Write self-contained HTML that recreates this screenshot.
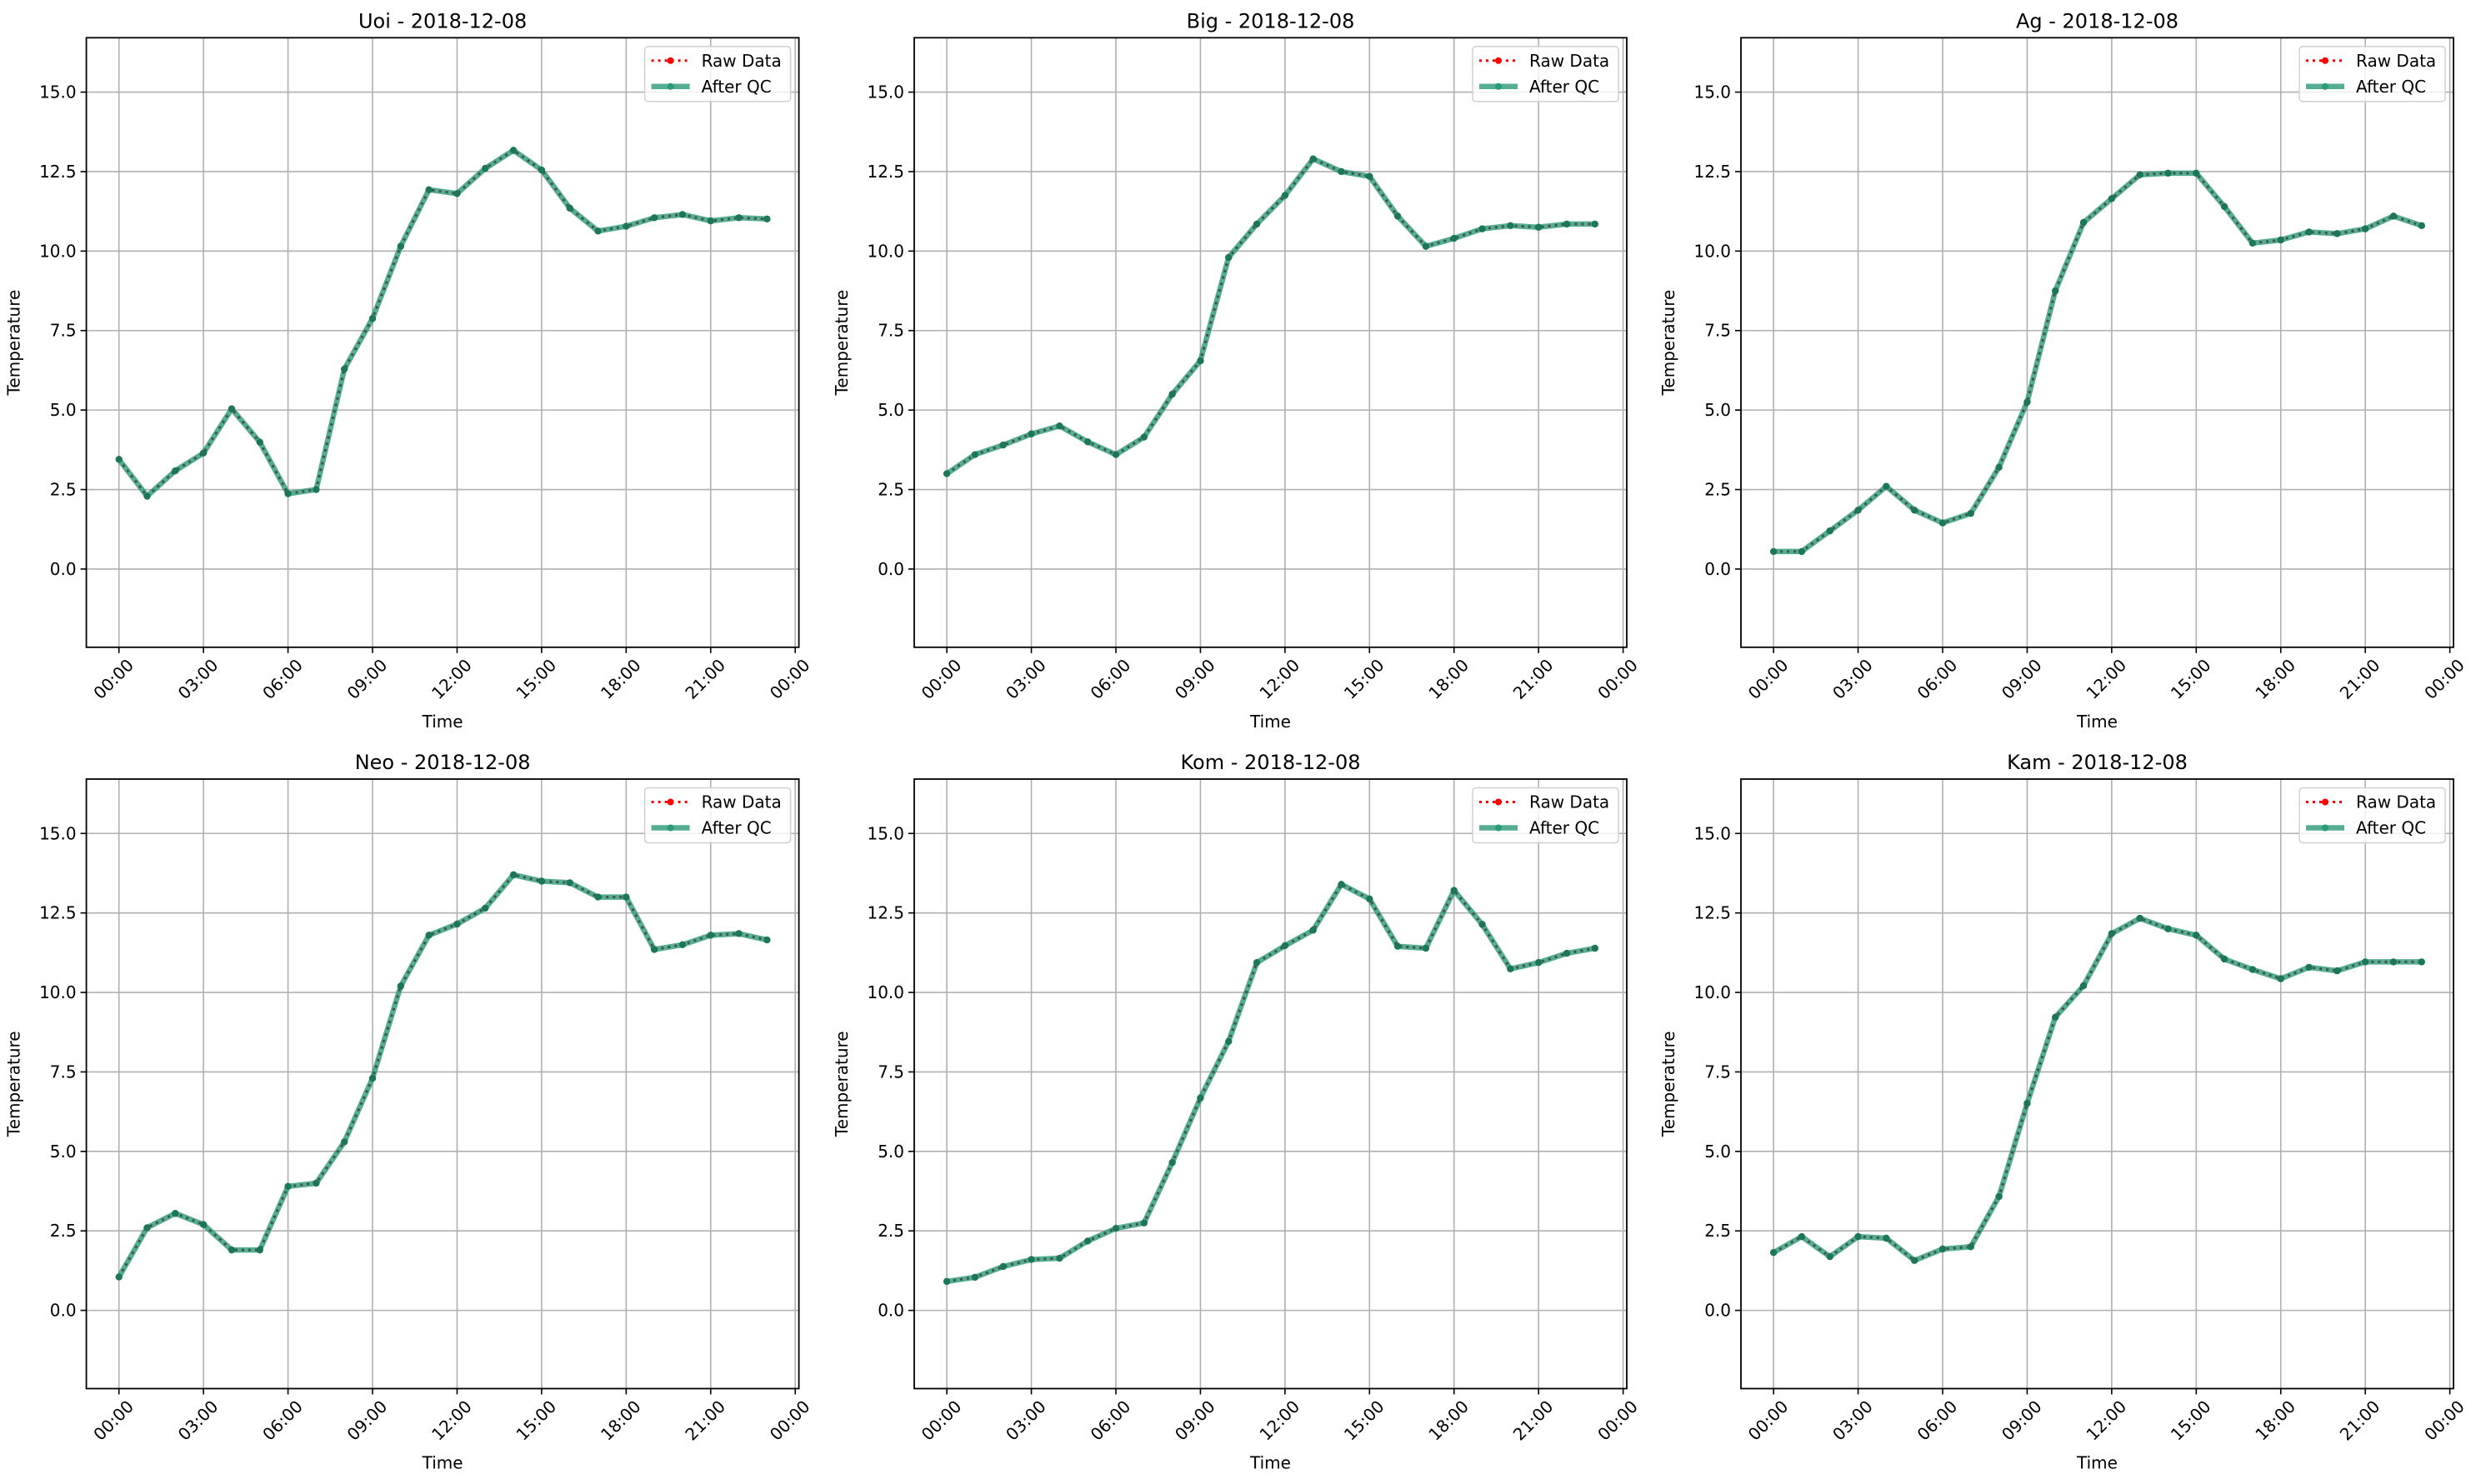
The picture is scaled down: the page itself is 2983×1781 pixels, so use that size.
<!DOCTYPE html>
<html><head><meta charset="utf-8">
<style>
html,body{margin:0;padding:0;background:#fff;}
svg{display:block;font-family:"DejaVu Sans","Liberation Sans",sans-serif;}
</style></head>
<body>
<svg id="fig" width="2983" height="1781" viewBox="0 0 2983 1781" xmlns="http://www.w3.org/2000/svg"></svg>
<script>
const stations = ["Uoi","Big","Ag","Neo","Kom","Kam"];
const dateLabel = "2018-12-08";
const hours = [0,1,2,3,4,5,6,7,8,9,10,11,12,13,14,15,16,17,18,19,20,21,22,23];
const uoiValues = [3.45,2.29,3.09,3.65,5.04,3.99,2.37,2.50,6.29,7.88,10.15,11.93,11.81,12.6,13.17,12.55,11.35,10.63,10.78,11.05,11.15,10.95,11.05,11.01];
const bigValues = [3.0,3.6,3.9,4.25,4.5,4.0,3.6,4.15,5.5,6.55,9.8,10.85,11.75,12.9,12.5,12.35,11.1,10.15,10.4,10.7,10.8,10.75,10.85,10.85];
const agValues = [0.55,0.55,1.2,1.85,2.6,1.85,1.45,1.75,3.2,5.25,8.75,10.9,11.65,12.4,12.45,12.45,11.4,10.25,10.35,10.6,10.55,10.7,11.1,10.8];
const neoValues = [1.05,2.6,3.05,2.7,1.9,1.9,3.9,4.0,5.3,7.3,10.2,11.8,12.15,12.65,13.7,13.5,13.45,13.0,13.0,11.35,11.5,11.8,11.85,11.65];
const komValues = [0.91,1.04,1.38,1.6,1.64,2.18,2.58,2.75,4.65,6.68,8.46,10.94,11.47,11.96,13.4,12.94,11.45,11.39,13.21,12.14,10.74,10.94,11.23,11.39];
const kamValues = [1.82,2.32,1.69,2.32,2.27,1.57,1.93,2.0,3.58,6.51,9.22,10.21,11.85,12.33,12.0,11.8,11.05,10.72,10.43,10.79,10.68,10.96,10.96,10.96];
const yTicks = [0,2.5,5,7.5,10,12.5,15];
const yTickLabels = ["0.0","2.5","5.0","7.5","10.0","12.5","15.0"];
const xTicks = [0,3,6,9,12,15,18,21,24];
const xTickLabels = ["00:00","03:00","06:00","09:00","12:00","15:00","18:00","21:00","00:00"];
const allSeries = [uoiValues,bigValues,agValues,neoValues,komValues,kamValues];

const NS = "http://www.w3.org/2000/svg";
const svg = document.getElementById("fig");
function mk(tag, attrs, parent){
  const e = document.createElementNS(NS, tag);
  for (const k in attrs) e.setAttribute(k, attrs[k]);
  (parent||svg).appendChild(e);
  return e;
}
const W = 855, H = 731.5;
const colX = [103.6,1097,2089], rowY = [45.3,935];
const yMin = -2.46, yMax = 16.71;
const xMin = -1.157, xMax = 24.13;

stations.forEach((name, i) => {
  const L = colX[i%3], T = rowY[Math.floor(i/3)];
  const g = mk("g", {});
  
  
  const xs = h => L + (h - xMin) / (xMax - xMin) * W;
  const ys = v => T + (yMax - v) / (yMax - yMin) * H;
  yTicks.forEach((v, k) => {
    const gl = mk("line", {x1:L, x2:L+W, y1:ys(v), y2:ys(v), stroke:"#b0b0b0", "stroke-width":1.6}, g);
    
    
    mk("line", {x1:L-7, x2:L, y1:ys(v), y2:ys(v), stroke:"#000", "stroke-width":1.6}, g);
    const t = mk("text", {x:L-12, y:ys(v)+7, "text-anchor":"end", "font-size":20, fill:"#000"}, g);
    t.textContent = yTickLabels[k];
    
    
  });
  xTicks.forEach((h, k) => {
    const gl = mk("line", {x1:xs(h), x2:xs(h), y1:T, y2:T+H, stroke:"#b0b0b0", "stroke-width":1.6}, g);
    
    
    mk("line", {x1:xs(h), x2:xs(h), y1:T+H, y2:T+H+7, stroke:"#000", "stroke-width":1.6}, g);
    const ax = xs(h)+8, ay = T+H+12;
    const t = mk("text", {x:ax, y:ay, "text-anchor":"end", "dominant-baseline":"hanging", "font-size":20, fill:"#000", transform:`rotate(-45 ${ax} ${ay})`}, g);
    t.textContent = xTickLabels[k];
    
    
  });
  const vals = allSeries[i];
  const pts = hours.map((h, k) => xs(h).toFixed(1) + "," + ys(vals[k]).toFixed(1)).join(" ");
  const raw = mk("polyline", {points:pts, fill:"none", stroke:"#ff0000", "stroke-width":3, "stroke-dasharray":"3,5"}, g);
  
  
  const qc = mk("polyline", {points:pts, fill:"none", stroke:"#2a9a78", "stroke-opacity":0.8, "stroke-width":6.5, "stroke-linejoin":"round"}, g);
  
  
  mk("polyline", {points:pts, fill:"none", stroke:"#3a4a44", "stroke-opacity":0.75, "stroke-width":3, "stroke-dasharray":"3,5"}, g);
  hours.forEach((h, k) => {
    const c = mk("circle", {cx:xs(h), cy:ys(vals[k]), r:4.2, fill:"#1e7659"}, g);
    
    
  });
  const fr = mk("rect", {x:L, y:T, width:W, height:H, fill:"none", stroke:"#000", "stroke-width":1.8}, g);
  
  
  const tt = mk("text", {x:L+W/2, y:T-12, "text-anchor":"middle", "font-size":24, fill:"#000"}, g);
  tt.textContent = name + " - " + dateLabel;
  
  
  const xl = mk("text", {x:L+W/2, y:T+H+96, "text-anchor":"middle", "font-size":20, fill:"#000"}, g);
  xl.textContent = "Time";
  
  
  const yx = L-80, yy = T+H/2;
  const yl = mk("text", {x:yx, y:yy, "text-anchor":"middle", "font-size":20, fill:"#000", transform:`rotate(-90 ${yx} ${yy})`}, g);
  yl.textContent = "Temperature";
  
  
  const lg = mk("g", {}, g);
  
  
  const bx = L+W-185, by = T+10.5;
  mk("rect", {x:bx, y:by, width:175, height:66, rx:4, fill:"#fff", "fill-opacity":0.8, stroke:"#d0d0d0", "stroke-width":1.5}, lg);
  mk("line", {x1:bx+8, x2:bx+54, y1:by+17, y2:by+17, stroke:"#ff0000", "stroke-width":3, "stroke-dasharray":"3,5"}, lg);
  mk("circle", {cx:bx+31, cy:by+17, r:4, fill:"#ff0000"}, lg);
  const t1 = mk("text", {x:bx+68, y:by+24, "font-size":20, fill:"#000"}, lg);
  t1.textContent = "Raw Data";
  
  
  mk("line", {x1:bx+8, x2:bx+54, y1:by+48, y2:by+48, stroke:"#2a9a78", "stroke-opacity":0.8, "stroke-width":6.5}, lg);
  mk("circle", {cx:bx+31, cy:by+48, r:4, fill:"#2a9a78"}, lg);
  const t2 = mk("text", {x:bx+68, y:by+55, "font-size":20, fill:"#000"}, lg);
  t2.textContent = "After QC";
  
  
});
</script>
</body></html>
